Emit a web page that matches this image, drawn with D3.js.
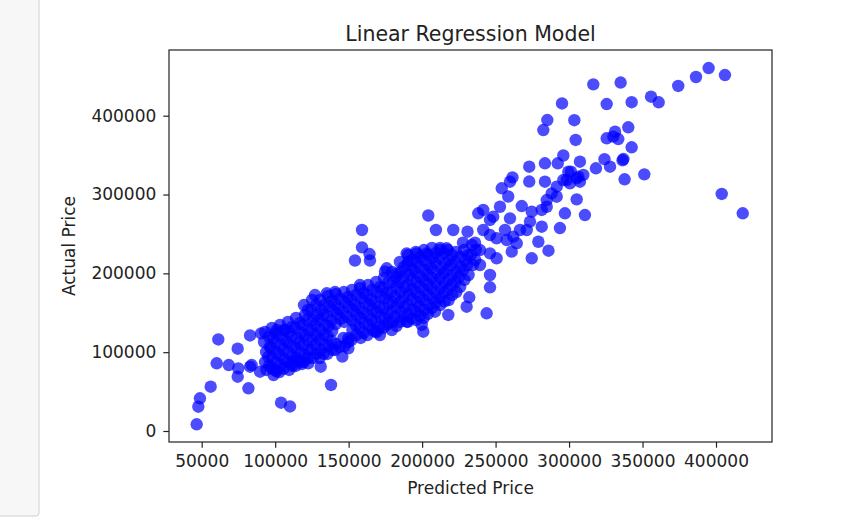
<!DOCTYPE html>
<html>
<head>
<meta charset="utf-8">
<script src="https://cdn.jsdelivr.net/npm/d3@7"></script>
<style>
  body { margin: 0; background: #ffffff; }
  svg { display: block; font-family: "DejaVu Sans", sans-serif; }
</style>
</head>
<body>
<svg id="chart" width="842" height="528"></svg>
<script>
// ---- data ----
const chartTitle = "Linear Regression Model";
const xLabel = "Predicted Price";
const yLabel = "Actual Price";
const xTicks = [50000, 100000, 150000, 200000, 250000, 300000, 350000, 400000];
const yTicks = [0, 100000, 200000, 300000, 400000];
const xLimits = [27746, 438110];
const yLimits = [-13955, 483350];

// scattered (individually visible) points
const predicted = [
  46600, 47700, 48800, 56100, 61300, 60200, 68400, 74500, 74900, 74500,
  81800, 104000, 110100, 138000, 131000, 82900, 89700, 82900, 90400, 101000,
  106700, 99900, 111200, 118000, 122500, 84000, 145700, 149800, 149800, 114600,
  127100, 135100, 140700, 157700, 154300, 164500, 159100, 159100, 164200, 174700,
  182900, 175900, 189500, 190600, 196300, 203100, 212200, 216700, 204200, 209400,
  221200, 230900, 227800, 236000, 238200, 246200, 246200, 250700, 246200, 246200,
  246200, 243900, 230300, 232100, 217800, 199700, 200800, 208800, 171300, 175900,
  189500, 167900, 241600, 248400, 253000, 254200, 258600, 259800, 261500, 259800,
  267800, 272900, 272900, 274600, 281400, 273400, 266600, 262000, 257600, 250700,
  261000, 264400, 271200, 282500, 285200, 295200, 303600, 304500, 283600, 292300,
  296100, 307400, 283600, 299500, 305200, 296100, 291600, 288200, 284800, 291600,
  305200, 310800, 297200, 293800, 281400, 279100, 286000, 274600, 284800, 316500,
  335100, 325600, 342600, 355800, 361000, 374300, 386400, 395000, 406100, 403900,
  418200, 340300, 325600, 330100, 333500, 331300, 342600, 324100, 327900, 336400,
  337000, 337800, 351200, 318300, 309700, 301300, 300600, 306300, 298400, 307400,
  241600, 256400, 239400, 239400
];
const actual = [
  8500, 30800, 41500, 56200, 116100, 85900, 83700, 104400, 79500, 68900,
  54200, 35900, 31100, 58400, 81600, 81600, 75200, 121200, 123900, 128100,
  128100, 77400, 85900, 85000, 85900, 83700, 94300, 104900, 117600, 90100,
  172500, 174700, 176300, 185200, 216300, 216300, 255000, 233000, 224500, 202100,
  199800, 206400, 225400, 214800, 225400, 225400, 229600, 231800, 273400, 255000,
  255000, 252800, 238900, 238900, 276200, 267700, 248600, 244500, 225400, 197900,
  182300, 149300, 157700, 169600, 147200, 134500, 126000, 151300, 121800, 134500,
  138700, 126000, 280400, 271900, 284500, 307900, 297500, 316300, 321800, 269800,
  285400, 335300, 316500, 278200, 280400, 265500, 255000, 246500, 242300, 219100,
  227500, 238100, 255000, 381800, 394500, 415500, 394300, 369200, 339600, 339600,
  349500, 341600, 316300, 328900, 320600, 318400, 309900, 301500, 293000, 297200,
  293900, 274000, 276200, 257500, 259200, 240100, 228700, 219100, 284500, 439800,
  442100, 414800, 417100, 424100, 417000, 437700, 449100, 460500, 451600, 300700,
  276200, 385300, 371300, 373400, 370400, 379700, 359900, 344800, 335300, 343400,
  345000, 319300, 325600, 333300, 324800, 328900, 314200, 322600, 318400, 316300,
  255000, 255000, 229600, 210600
];

// points inside the dense central band (estimated)
const clusterPredicted = [
  93100, 92400, 93800, 93100, 94000,
  97800, 98500, 97200, 98000, 97600, 98900,
  103300, 102600, 104000, 103100, 103800, 102900,
  108700, 109400, 108100, 108900, 108300, 109500,
  114200, 113600, 114800, 114000, 114500, 113800,
  119600, 120300, 119000, 119900, 119300, 120100, 119500,
  125100, 124500, 125800, 124900, 125400, 124700, 125600,
  130500, 131200, 129900, 130800, 130200, 131000, 130400,
  135900, 136600, 135300, 136200, 135700, 136400, 135500,
  141400, 140800, 142000, 141200, 141600, 140900,
  146800, 147400, 146200, 147000, 146500, 147300,
  152300, 151700, 152900, 152000, 152600, 151900,
  157700, 158400, 157100, 158000, 157400, 158200,
  163200, 162600, 163800, 163000, 163500, 162800,
  168600, 169300, 168000, 168900, 168300, 169100,
  174100, 173500, 174700, 173800, 174400, 173600,
  179500, 180200, 178900, 179800, 179200, 180000, 179400,
  184900, 185600, 184300, 185200, 184600, 185400, 184800,
  190400, 189800, 191000, 190100, 190700, 189900, 190500, 190200,
  195800, 196500, 195200, 196100, 195500, 196300, 195700, 196000,
  201300, 200700, 201900, 201000, 201600, 200900, 201400, 201100,
  206700, 207400, 206100, 207000, 206400, 207200, 206600,
  212200, 211600, 212800, 211900, 212500, 211800, 212300,
  217600, 218300, 217000, 217900, 217300, 218100,
  223000, 222400, 223600, 222700, 223300,
  228500, 229200, 227900, 228800,
  233900, 233300, 234500
];
const clusterActual = [
  125600, 112900, 100200, 87500, 77400,
  130700, 118000, 105300, 92600, 79900, 71000,
  134500, 121800, 109100, 96400, 83700, 74800,
  138300, 125600, 112900, 100200, 87500, 77400,
  143400, 130700, 118000, 105300, 92600, 82500,
  159800, 147200, 134500, 121800, 109100, 96400, 87500,
  166200, 153500, 140800, 128100, 115400, 102800, 92600,
  166200, 153500, 140800, 128100, 115400, 102800, 92600,
  171300, 158600, 145900, 133200, 120500, 107800, 97700,
  173800, 161100, 148400, 135700, 110400, 102800,
  176300, 163600, 151000, 138300, 118000, 107800,
  178900, 166200, 153500, 140800, 128100, 115400,
  181400, 168700, 156000, 143400, 130700, 118000,
  185200, 172500, 159800, 147200, 134500, 121800,
  189000, 176300, 163600, 151000, 138300, 125600,
  194100, 181400, 168700, 156000, 143400, 130700,
  201700, 189000, 176300, 163600, 151000, 138300, 128100,
  214400, 201700, 189000, 176300, 163600, 151000, 138300,
  223300, 210600, 197900, 185200, 172500, 159800, 147200, 138300,
  227100, 214400, 201700, 189000, 176300, 163600, 151000, 140800,
  229600, 216900, 204200, 191600, 178900, 166200, 153500, 143400,
  232200, 219500, 206800, 194100, 181400, 168700, 156000,
  232200, 219500, 206800, 194100, 181400, 168700, 159800,
  229600, 216900, 204200, 191600, 178900, 166200,
  227100, 214400, 201700, 189000, 176300,
  229600, 216900, 204200, 191600,
  236000, 223300, 210600
];

// more points packed between the ones above (estimated)
const clusterFillPredicted = [
  95800, 96300, 95400, 96000,
  100500, 100000, 101100, 100400, 100800,
  106000, 106600, 105500, 106200, 105800,
  111400, 111000, 111900, 111300, 111700,
  116900, 117400, 116500, 117100, 116700,
  122300, 121800, 122800, 122100, 122600, 122000,
  127800, 128300, 127400, 128000, 127600, 128200,
  133200, 132700, 133700, 133000, 133500, 132900,
  138600, 139100, 138200, 138800, 138400, 139000,
  144100, 143600, 144500, 143900,
  149500, 150000, 149100, 149700,
  155000, 154500, 155400, 154800, 155200,
  160400, 160900, 160000, 160600, 160200,
  165900, 165400, 166300, 165700, 166100,
  171300, 171800, 170900, 171500, 171100,
  176800, 176300, 177200, 176600, 177000,
  182200, 182700, 181800, 182400, 182000, 182600,
  187600, 187100, 188000, 187400, 187800, 187200,
  193100, 193600, 192700, 193300, 192900, 193500, 193000,
  198500, 198000, 198900, 198300, 198700, 198100, 198600,
  204000, 204500, 203600, 204200, 203800, 204400, 203900,
  209400, 208900, 209800, 209200, 209600, 209000,
  214900, 215400, 214500, 215100, 214700, 215300,
  220300, 219800, 220700, 220100, 220500,
  225700, 226200, 225300, 225900,
  231200, 230700, 231600,
  236600, 236100
];
const clusterFillActual = [
  119300, 106600, 93900, 82500,
  124400, 111700, 99000, 86300, 75500,
  128200, 115500, 102800, 90100, 79300,
  132000, 119300, 106600, 93900, 82500,
  137100, 124400, 111700, 99000, 87600,
  153500, 140900, 128200, 115500, 102800, 92000,
  159900, 147200, 134500, 121800, 109100, 97700,
  159900, 147200, 134500, 121800, 109100, 97700,
  165000, 152300, 139600, 126900, 114200, 102800,
  167500, 154800, 142100, 106600,
  170000, 157300, 144700, 112900,
  172600, 159900, 147200, 134500, 121800,
  175100, 162400, 149700, 137100, 124400,
  178900, 166200, 153500, 140900, 128200,
  182700, 170000, 157300, 144700, 132000,
  187800, 175100, 162400, 149700, 137100,
  195400, 182700, 170000, 157300, 144700, 133200,
  208100, 195400, 182700, 170000, 157300, 144700,
  217000, 204300, 191600, 178900, 166200, 153500, 142800,
  220800, 208100, 195400, 182700, 170000, 157300, 145900,
  223300, 210600, 197900, 185300, 172600, 159900, 148500,
  225900, 213200, 200500, 187800, 175100, 162400,
  225900, 213200, 200500, 187800, 175100, 164300,
  223300, 210600, 197900, 185300, 172600,
  220800, 208100, 195400, 182700,
  223300, 210600, 197900,
  229700, 217000
];

// ---- drawing ----
const svg = d3.select("#chart");
const plot = { left: 169, right: 772, top: 50, bottom: 442 };

const x = d3.scaleLinear().domain(xLimits).range([plot.left, plot.right]);
const y = d3.scaleLinear().domain(yLimits).range([plot.bottom, plot.top]);

// left notebook panel
svg.append("rect")
  .attr("x", -4).attr("y", -4).attr("width", 43).attr("height", 520)
  .attr("rx", 3).attr("ry", 3)
  .attr("fill", "#f7f7f7").attr("stroke", "#cfcfcf").attr("stroke-width", 1);

const points = predicted.map((p, i) => ({ p, a: actual[i] }))
  .concat(clusterPredicted.map((p, i) => ({ p, a: clusterActual[i] })))
  .concat(clusterFillPredicted.map((p, i) => ({ p, a: clusterFillActual[i] })));

svg.append("g")
  .selectAll("circle")
  .data(points)
  .join("circle")
  .attr("cx", d => x(d.p))
  .attr("cy", d => y(d.a))
  .attr("r", 6.2)
  .attr("fill", "#0000ff")
  .attr("fill-opacity", 0.7);

// axes
const xAxis = d3.axisBottom(x).tickValues(xTicks).tickFormat(d3.format("d"))
  .tickSize(5.7).tickPadding(7).tickSizeOuter(0);
const yAxis = d3.axisLeft(y).tickValues(yTicks).tickFormat(d3.format("d"))
  .tickSize(5.7).tickPadding(7).tickSizeOuter(0);

const gx = svg.append("g").attr("transform", `translate(0,${plot.bottom})`).call(xAxis);
const gy = svg.append("g").attr("transform", `translate(${plot.left},0)`).call(yAxis);
[gx, gy].forEach(g => {
  g.select(".domain").remove();
  g.selectAll(".tick line").attr("stroke", "#222").attr("stroke-width", 1.2);
  g.selectAll(".tick text").attr("fill", "#222").attr("font-size", 17)
    .attr("font-family", "DejaVu Sans, sans-serif");
});
gx.selectAll(".tick text").attr("dy", "0.71em");

// frame (spines)
svg.append("rect")
  .attr("x", plot.left).attr("y", plot.top)
  .attr("width", plot.right - plot.left).attr("height", plot.bottom - plot.top)
  .attr("fill", "none").attr("stroke", "#222").attr("stroke-width", 1.2);

// title and labels
svg.append("text")
  .attr("x", (plot.left + plot.right) / 2).attr("y", 40.5)
  .attr("text-anchor", "middle").attr("font-size", 20.5).attr("fill", "#222")
  .text(chartTitle);

svg.append("text")
  .attr("x", (plot.left + plot.right) / 2).attr("y", 494)
  .attr("text-anchor", "middle").attr("font-size", 17).attr("fill", "#222")
  .text(xLabel);

svg.append("text")
  .attr("transform", `translate(75,${(plot.top + plot.bottom) / 2}) rotate(-90)`)
  .attr("text-anchor", "middle").attr("font-size", 17).attr("fill", "#222")
  .text(yLabel);
</script>
</body>
</html>
